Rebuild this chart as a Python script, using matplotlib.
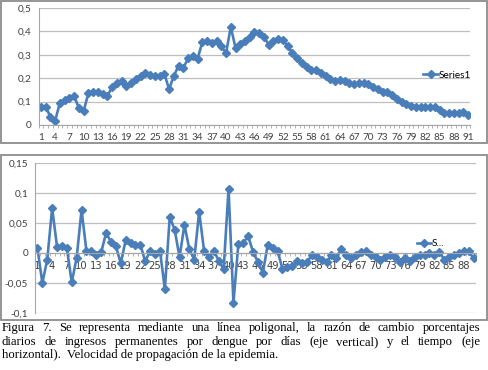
import matplotlib.pyplot as plt
import numpy as np
from matplotlib.patches import Rectangle
from matplotlib.ticker import FuncFormatter, FixedLocator

# serie superior: proporcion acumulada por dia (1..91)
dias_sup = np.arange(1, 92)
serie_sup = [0.076, 0.079, 0.033, 0.019, 0.096, 0.107, 0.114, 0.124, 0.071, 0.061,
             0.136, 0.139, 0.139, 0.133, 0.126, 0.161, 0.179, 0.186, 0.167, 0.181,
             0.196, 0.21, 0.224, 0.214, 0.21, 0.21, 0.219, 0.153, 0.21, 0.253,
             0.243, 0.285, 0.297, 0.283, 0.353, 0.357, 0.35, 0.357, 0.336, 0.307,
             0.419, 0.33, 0.346, 0.36, 0.376, 0.396, 0.393, 0.376, 0.343, 0.357,
             0.367, 0.364, 0.336, 0.307, 0.286, 0.264, 0.25, 0.236, 0.236, 0.221,
             0.21, 0.197, 0.186, 0.193, 0.19, 0.181, 0.176, 0.179, 0.181, 0.176,
             0.161, 0.153, 0.141, 0.141, 0.129, 0.113, 0.10, 0.09, 0.083, 0.079,
             0.076, 0.076, 0.076, 0.079, 0.064, 0.053, 0.05, 0.05, 0.053, 0.056, 0.043]

# serie inferior: razon de cambio (1..90)
dias_inf = np.arange(1, 91)
serie_inf = [0.008, -0.05, -0.011, 0.075, 0.01, 0.011, 0.008, -0.049, -0.008, 0.072,
             0.003, 0.003, -0.004, 0.001, 0.033, 0.019, 0.011, -0.017, 0.021, 0.017,
             0.014, 0.014, -0.014, 0.004, -0.001, 0.004, -0.06, 0.06, 0.039, -0.007,
             0.047, 0.006, -0.011, 0.069, 0.004, -0.007, 0.004, -0.013, -0.027, 0.107,
             -0.083, 0.015, 0.017, 0.028, 0.002, -0.015, -0.033, 0.014, 0.008, 0.003,
             -0.026, -0.024, -0.022, -0.014, -0.017, -0.015, -0.004, -0.006, -0.011, -0.015,
             -0.004, -0.008, 0.007, -0.004, -0.008, -0.003, 0.002, 0.004, -0.003, -0.007,
             -0.011, -0.007, -0.004, -0.007, -0.015, -0.008, -0.013, -0.007, -0.003, -0.004,
             0.0, -0.003, 0.002, -0.011, -0.007, -0.003, 0.0, 0.003, 0.003, -0.009]

ticks_sup = [0, 0.1, 0.2, 0.3, 0.4, 0.5]
ticks_inf = [-0.1, -0.05, 0, 0.05, 0.1, 0.15]

caption = ["Figura 7. Se representa mediante una línea poligonal, la razón de cambio porcentajes",
           "diarios de ingresos permanentes por dengue por días (eje vertical) y el tiempo (eje",
           "horizontal).  Velocidad de propagación de la epidemia."]

W, H = 488, 370
azul = '#4a7ebb'
gris = '#bfbfbf'
fuente = 'Lato'

fig = plt.figure(figsize=(W / 100, H / 100), dpi=100)


def px(x0, y0, x1, y1):
    # rectangulo en pixeles (origen arriba-izquierda) -> fraccion de figura
    return [x0 / W, 1 - y1 / H, (x1 - x0) / W, (y1 - y0) / H]


def coma(v, pos):
    s = ('%.2f' % v).rstrip('0').rstrip('.')
    if s in ('-0', ''):
        s = '0'
    return s.replace('.', ',')


def estilo(ax, n, yt):
    ax.set_xlim(0.5, n + 0.5)
    ax.set_ylim(yt[0], yt[-1])
    ax.set_yticks(yt)
    ax.yaxis.set_major_formatter(FuncFormatter(coma))
    ax.grid(axis='y', color=gris, lw=0.9)
    ax.set_axisbelow(True)
    for s in ['top', 'right']:
        ax.spines[s].set_visible(False)
    ax.spines['left'].set_color('#a6a6a6')
    ax.spines['bottom'].set_color('#a6a6a6')
    ax.set_xticks(np.arange(1, n + 1, 3))
    ax.xaxis.set_minor_locator(FixedLocator(np.arange(0.5, n + 1, 1)))
    ax.tick_params(axis='x', which='major', length=0, labelsize=7.2, pad=6, labelcolor='#404040')
    ax.tick_params(axis='x', which='minor', length=2.5, color='#a6a6a6', width=0.6)
    ax.tick_params(axis='y', length=0, labelsize=7.2, pad=5, labelcolor='#404040')
    for lab in ax.get_xticklabels() + ax.get_yticklabels():
        lab.set_fontfamily(fuente)


# grafico superior
ax1 = fig.add_axes(px(38.6, 8, 470.4, 125))
ax1.plot(dias_sup, serie_sup, color=azul, lw=1.9, marker='D', ms=4.2, label='Series1')
estilo(ax1, 91, ticks_sup)
ax1.legend(loc='center left', bbox_to_anchor=(423 / W, 1 - 75 / H), bbox_transform=fig.transFigure,
           frameon=False, handlelength=1.5, handletextpad=0.1, borderpad=0, borderaxespad=0,
           prop={'family': fuente, 'size': 7.2})

# grafico inferior
ax2 = fig.add_axes(px(35, 163, 476, 313))
ax2.plot(dias_inf, serie_inf, color=azul, lw=1.9, marker='D', ms=4.2, label='S...')
estilo(ax2, 90, ticks_inf)
ax2.spines['bottom'].set_position(('data', 0))
ax2.legend(loc='center left', bbox_to_anchor=(417 / W, 1 - 244 / H), bbox_transform=fig.transFigure,
           frameon=False, handlelength=1.4, handletextpad=0.1, borderpad=0, borderaxespad=0,
           prop={'family': fuente, 'size': 7.2})

# marcos de los graficos
for r in [(1, 1, 486.5, 143), (1, 155, 486.5, 320)]:
    b = px(*r)
    fig.add_artist(Rectangle((b[0], b[1]), b[2], b[3], transform=fig.transFigure,
                             fill=False, ec='#8c8c8c', lw=1.3))

# texto de la figura, justificado
fig.canvas.draw()
rend = fig.canvas.get_renderer()
x_izq, x_der = 2, 480
bases = [331, 345, 358]
tam = 9.1
for i, linea in enumerate(caption):
    y = 1 - bases[i] / H
    if i == len(caption) - 1:
        fig.text(x_izq / W, y, linea, family='Liberation Serif', size=tam, va='baseline')
        continue
    palabras = linea.split()
    objs = [fig.text(0, y, p, family='Liberation Serif', size=tam, va='baseline') for p in palabras]
    anchos = [o.get_window_extent(rend).width for o in objs]
    hueco = (x_der - x_izq - sum(anchos)) / (len(palabras) - 1)
    x = x_izq
    for o, a in zip(objs, anchos):
        o.set_x(x / W)
        x += a + hueco

fig.savefig('out.png', dpi=100)
